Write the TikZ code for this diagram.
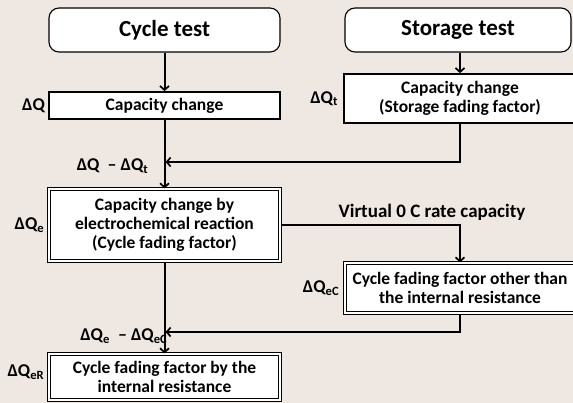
\documentclass[tikz,border=0pt]{standalone}
\usepackage{fontspec}
\setmainfont{Carlito}
\usetikzlibrary{positioning,arrows.meta}

\definecolor{paper}{RGB}{239,231,225}

\tikzset{
  headbox/.style={draw, rounded corners=10pt, fill=white, line width=1.1pt,
    minimum height=44pt, font=\fontsize{23}{26}\selectfont\bfseries},
  stepbox/.style={draw, fill=white, line width=1.8pt, align=center, inner sep=2pt,
    font=\fontsize{17.5}{19}\selectfont\bfseries},
  dblbox/.style={draw, double, double distance=1.4pt, line width=1.2pt, inner sep=2pt,
    fill=white, align=center, font=\fontsize{17.5}{19}\selectfont\bfseries},
  qlabel/.style={font=\fontsize{18}{20}\selectfont\bfseries, inner sep=1pt},
  flow/.style={line width=2pt, -{Straight Barb[length=4pt,width=9pt,line width=1.7pt]}},
}

\begin{document}
\begin{tikzpicture}[x=1pt, y=-1pt]
        % page and clipping
        \fill[paper] (0,0) rectangle (573,403);
        \clip (0,0) rectangle (573,403);

        % the two tests
        \node[headbox, minimum width=231pt] (cycle) at (164.5,30) {Cycle test};
        \node[headbox, minimum width=226pt] (stor) at (458,30) {Storage test};

        % capacity changes
        \node[stepbox, minimum width=231pt, minimum height=27pt] (capc) at (164.5,105.5) {Capacity change};
        \node[stepbox, minimum width=232pt, minimum height=49pt] (stcap) at (460,98.5)
            {Capacity change\\(Storage fading factor)};

        % fading factors
        \node[dblbox, minimum width=231pt, minimum height=72pt] (react) at (164.5,225)
            {Capacity change by\\electrochemical reaction\\(Cycle fading factor)};
        \node[dblbox, minimum width=230pt, minimum height=50pt] (other) at (460,288)
            {Cycle fading factor other than\\the internal resistance};
        \node[dblbox, minimum width=231pt, minimum height=46pt] (resist) at (164.5,377)
            {Cycle fading factor by the\\internal resistance};

        % labels beside the boxes
        \node[qlabel, left=2pt of capc] (dq) {ΔQ};
        \node[qlabel, left=4pt of stcap] (dqt) {ΔQ\textsubscript{t}};
        \node[qlabel, left=3pt of react] (dqe) {ΔQ\textsubscript{e}};
        \node[qlabel, left=4pt of other] (dqec) {ΔQ\textsubscript{eC}};
        \node[qlabel, left=3pt of resist.west, yshift=5pt] (dqer) {ΔQ\textsubscript{eR}};

        % joints on the main line
        \coordinate (joinA) at (165.5,162);
        \coordinate (joinB) at (165.5,332);

        % connectors
        \draw[flow] (cycle) -- (capc);
        \draw[flow] (stcap.north |- stor.south) -- (stcap.north);
        \draw[flow] (stcap.south) |- (joinA);
        \draw[flow] (capc) -- (react);
        \draw[flow] (react.east) -| (other.north);
        \draw[flow] (react) -- (resist);
        \draw[flow] (other.south) |- (joinB);

        % differences and the virtual capacity
        \node[qlabel, anchor=east] (diffA) at ([xshift=-16pt, yshift=-4pt]joinA) {ΔQ~~– ΔQ\textsubscript{t}};
        \node[qlabel, anchor=east] (diffB) at ([xshift=3pt, yshift=-4pt]joinB) {ΔQ\textsubscript{e}~~– ΔQ\textsubscript{eC}};
        \node[qlabel, font=\fontsize{19}{21}\selectfont\bfseries, above=3pt of react.east -| other.north, xshift=-28pt] (virt) {Virtual 0 C rate capacity};
\end{tikzpicture}
\end{document}
